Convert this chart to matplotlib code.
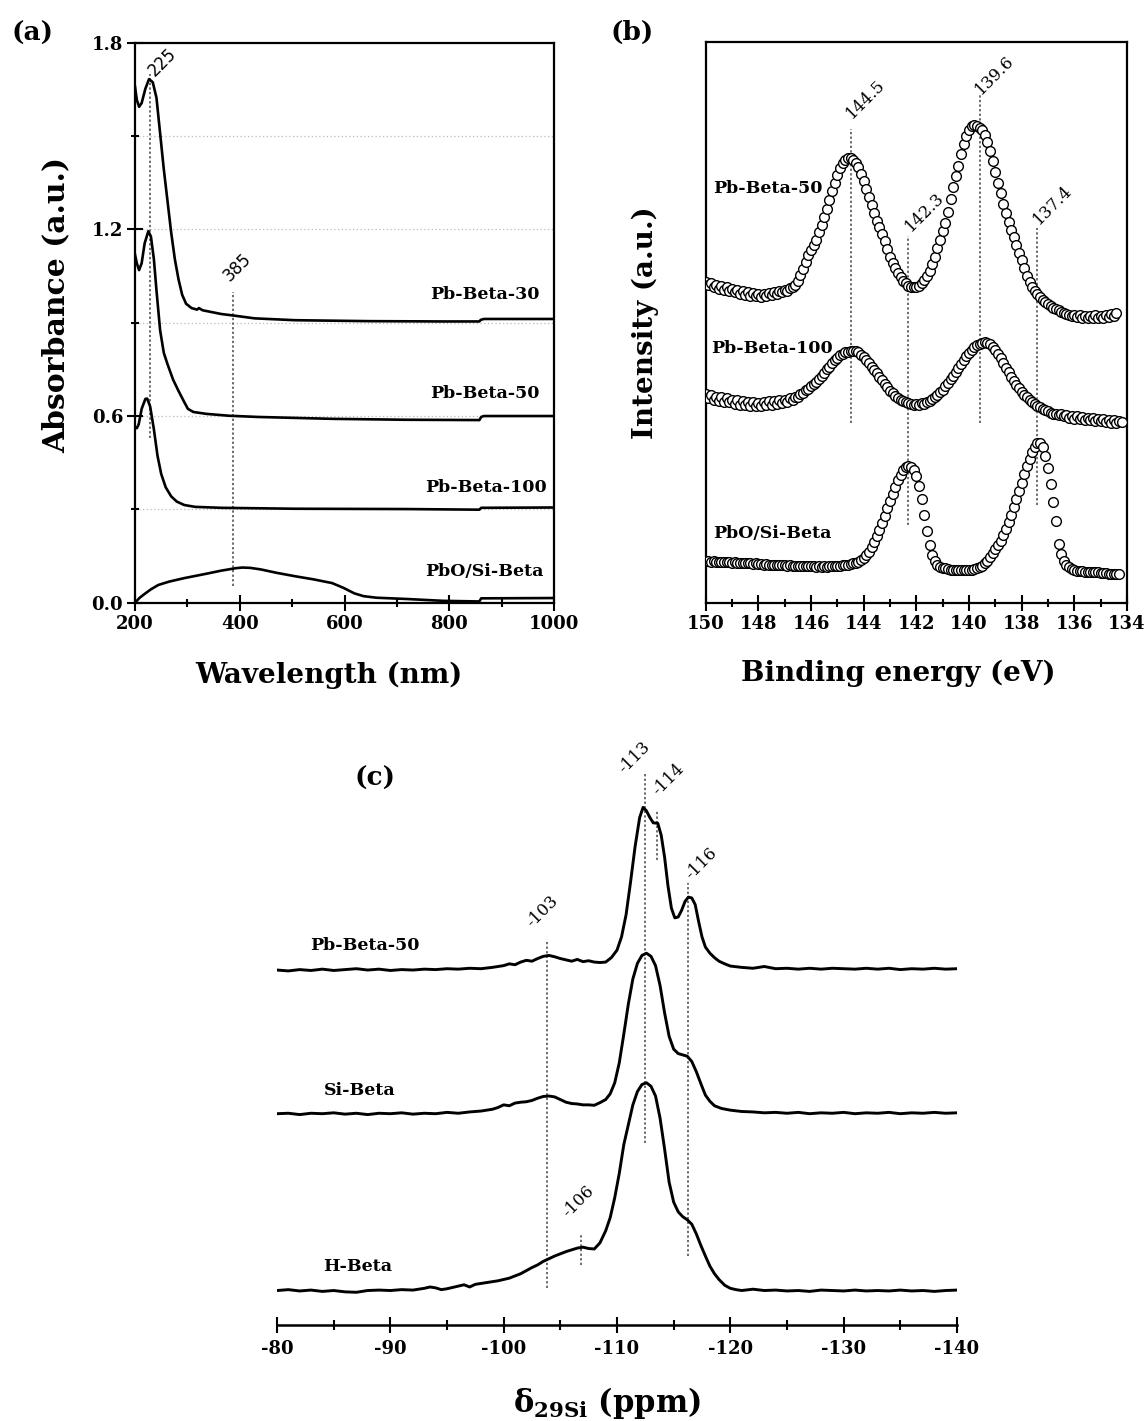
import numpy as np
import matplotlib.pyplot as plt
from matplotlib.ticker import MultipleLocator, FormatStrFormatter

plt.rcParams['font.family'] = 'DejaVu Serif'
plt.rcParams['font.weight'] = 'bold'
plt.rcParams['mathtext.fontset'] = 'dejavuserif'

# ---------------- (a) UV-vis ----------------
wl_30 = [200, 203.5, 207.8, 212.7, 219.8, 226.8, 233.9, 241, 248, 255, 262, 269, 276,
         283, 290, 297.5, 308, 318.6, 322, 329, 364.5, 392.8, 428, 505.8, 647, 788,
         857.5, 860, 866, 1000]
abs_30 = [1.659, 1.616, 1.594, 1.606, 1.652, 1.683, 1.673, 1.623, 1.508, 1.393, 1.292,
          1.191, 1.105, 1.040, 0.990, 0.961, 0.947, 0.942, 0.947, 0.940, 0.928, 0.922,
          0.914, 0.908, 0.905, 0.904, 0.904, 0.909, 0.912, 0.912]

wl_50 = [200, 203.5, 207.8, 212.7, 218.4, 225.4, 230.4, 236, 241, 248, 255, 262, 272.7,
         283, 294, 301, 311.6, 336, 378.7, 435, 576, 717.7, 857.5, 861, 866, 1000]
abs_50 = [1.119, 1.091, 1.069, 1.091, 1.155, 1.194, 1.177, 1.105, 1.004, 0.875, 0.803,
          0.767, 0.717, 0.681, 0.645, 0.623, 0.613, 0.607, 0.601, 0.597, 0.591, 0.588,
          0.587, 0.597, 0.600, 0.600]

wl_100 = [200, 203.5, 207, 212.7, 219.8, 223.3, 229, 236, 243, 250, 258.6, 269, 279.8,
          294, 315, 364.5, 505.8, 717.7, 857.5, 861, 1000]
abs_100 = [0.565, 0.561, 0.573, 0.623, 0.655, 0.656, 0.630, 0.558, 0.472, 0.414, 0.371,
           0.342, 0.325, 0.314, 0.308, 0.305, 0.302, 0.301, 0.299, 0.305, 0.306]

wl_pbo = [200, 209, 219.8, 230.4, 244.5, 265.7, 294, 315, 336, 364.5, 392.8, 405, 420,
          440, 470.5, 505.8, 541, 576.4, 597.6, 618.8, 636.4, 661, 717.7, 788, 857.5,
          861, 1000]
abs_pbo = [0.000, 0.016, 0.030, 0.043, 0.057, 0.068, 0.079, 0.086, 0.093, 0.103, 0.111,
           0.113, 0.112, 0.107, 0.096, 0.085, 0.075, 0.063, 0.048, 0.030, 0.021, 0.016,
           0.012, 0.006, 0.004, 0.014, 0.015]

uv_labels = ['Pb-Beta-30', 'Pb-Beta-50', 'Pb-Beta-100', 'PbO/Si-Beta']

# ---------------- (b) XPS Pb 4f (0.1 eV steps from 150 eV) ----------------
xps_50 = [572, 566, 570, 563, 567, 560, 564, 558, 562, 556,
          560, 553, 557, 551, 555, 549, 553, 547, 552, 546,
          550, 545, 551, 547, 552, 548, 554, 550, 556, 553,
          558, 556, 561, 563, 567, 574, 584, 595, 607, 619,
          629, 638, 647, 660, 673, 687, 701, 717, 733, 749,
          762, 775, 784, 790, 793, 792, 789, 784, 776, 765,
          751, 737, 723, 709, 695, 681, 669, 657, 644, 630,
          617, 606, 596, 588, 580, 574, 569, 565, 563, 562,
          563, 565, 569, 575, 582, 591, 603, 617, 632, 647,
          662, 677, 697, 719, 741, 760, 779, 799, 818, 832,
          843, 849, 851, 850, 847, 842, 834, 821, 805, 787,
          768, 749, 730, 711, 695, 679, 665, 651, 637, 624,
          610, 596, 583, 571, 563, 556, 550, 545, 540, 536,
          532, 529, 526, 523, 521, 518, 516, 514, 513, 511,
          513, 509, 512, 508, 511, 507, 511, 508, 512, 507,
          511, 508, 512, 509, 514, 511, 516]

xps_100 = [372, 365, 370, 362, 367, 360, 366, 358, 364, 357,
           362, 355, 361, 353, 359, 352, 358, 351, 357, 350,
           356, 351, 358, 352, 359, 353, 360, 354, 361, 356,
           362, 358, 364, 361, 367, 366, 372, 373, 379, 381,
           386, 389, 393, 398, 404, 410, 416, 421, 427, 432,
           437, 441, 444, 446, 447, 448, 449, 448, 446, 442,
           438, 433, 427, 421, 415, 409, 403, 397, 390, 384,
           378, 373, 369, 365, 362, 360, 357, 356, 354, 353,
           355, 353, 356, 355, 358, 360, 363, 367, 371, 375,
           380, 386, 392, 398, 404, 411, 418, 425, 432, 439,
           445, 451, 456, 460, 462, 463, 464, 463, 461, 456,
           450, 443, 436, 428, 419, 411, 403, 395, 388, 382,
           376, 371, 366, 362, 358, 355, 351, 348, 346, 343,
           341, 339, 337, 336, 334, 336, 332, 334, 330, 333,
           328, 332, 327, 331, 326, 330, 325, 329, 324, 328,
           323, 327, 322, 326, 321, 325, 320, 324, 322]

xps_pbo = [74, 74, 73, 74, 73, 73, 72, 73, 72, 72,
           71, 72, 71, 71, 70, 71, 70, 70, 69, 70,
           69, 69, 68, 69, 68, 68, 67, 68, 67, 67,
           67, 66, 67, 66, 66, 66, 65, 66, 65, 65,
           65, 65, 64, 65, 64, 65, 64, 65, 65, 65,
           66, 66, 67, 67, 68, 69, 70, 71, 73, 76,
           80, 85, 91, 99, 108, 119, 130, 142, 155, 168,
           181, 194, 206, 218, 228, 236, 241, 243, 242, 236,
           225, 208, 185, 157, 128, 103, 85, 74, 68, 64,
           62, 61, 60, 59, 59, 58, 58, 58, 58, 58,
           58, 59, 60, 61, 63, 66, 70, 75, 81, 89,
           96, 103, 110, 120, 131, 143, 156, 170, 184, 199,
           214, 229, 243, 256, 268, 278, 284, 285, 278, 262,
           240, 212, 180, 146, 105, 86, 75, 68, 63, 60,
           58, 57, 56, 56, 55, 55, 55, 54, 54, 54,
           53, 53, 53, 52, 52, 52, 51, 51]

xps_labels = ['Pb-Beta-50', 'Pb-Beta-100', 'PbO/Si-Beta']

# ---------------- (c) 29Si MAS NMR ----------------
ppm_pb = [-80, -81, -82, -83, -84, -85, -86, -87, -88, -89, -90, -91, -92, -93, -94, -95,
          -96, -97, -98, -99, -100, -100.5, -101, -101.5, -102, -102.5, -103, -103.5, -104,
          -104.5, -105, -105.5, -106, -106.5, -107, -107.5, -108, -108.5, -109, -109.5,
          -110, -110.4, -110.8, -111.2, -111.6, -112, -112.3, -112.6, -112.9, -113.2,
          -113.6, -113.9, -114.2, -114.5, -114.8, -115.1, -115.4, -115.7, -116, -116.3,
          -116.6, -116.9, -117.2, -117.5, -117.8, -118.2, -118.6, -119, -119.5, -120,
          -121, -122, -123, -124, -125, -126, -127, -128, -129, -130, -131, -132, -133,
          -134, -135, -136, -137, -138, -139, -140]
int_pb = [0, -2, 1, -1, 2, -1, 1, 3, 0, 2, -1, 1, 0, 2, 1, 3,
          2, 4, 3, 6, 10, 14, 12, 18, 22, 20, 26, 31, 33,
          30, 26, 23, 20, 24, 19, 21, 18, 17, 18, 28,
          45, 75, 125, 200, 280, 345, 368, 360, 345, 333,
          332, 305, 255, 190, 140, 118, 120, 135, 155, 165,
          163, 148, 110, 75, 52, 38, 28, 20, 14, 9,
          6, 4, 8, 3, 4, 2, 4, 2, 4, 3, 2, 4, 2,
          4, 1, 3, 2, 4, 2, 3]

ppm_si = [-80, -81, -82, -83, -84, -85, -86, -87, -88, -89, -90, -91, -92, -93, -94, -95,
          -96, -97, -98, -99, -99.5, -100, -100.5, -101, -101.5, -102, -102.5, -103,
          -103.5, -104, -104.5, -105, -105.5, -106, -106.5, -107, -107.5, -108, -108.5,
          -109, -109.4, -109.8, -110.2, -110.6, -111, -111.4, -111.8, -112.2, -112.6,
          -113, -113.4, -113.8, -114.2, -114.6, -115, -115.4, -115.8, -116.2, -116.6,
          -117, -117.4, -117.8, -118.2, -118.6, -119.2, -120, -121, -122, -123, -124,
          -125, -126, -127, -128, -129, -130, -131, -132, -133, -134, -135, -136, -137,
          -138, -139, -140]
int_si = [0, 1, -2, 1, 0, 2, -1, 1, -2, 1, 0, 2, -1, 1, 0, 3,
          1, 4, 6, 10, 14, 20, 18, 24, 26, 27, 30, 35,
          39, 40, 38, 32, 26, 23, 22, 20, 20, 19, 25,
          32, 45, 70, 115, 180, 248, 305, 340, 358, 363,
          356, 335, 290, 228, 175, 146, 136, 133, 130, 118,
          95, 68, 42, 28, 18, 12, 8, 5, 4, 2, 3,
          1, 3, 0, 2, 1, 3, 0, 2, 1, 3, 0, 2, 1,
          3, 1, 2]

ppm_h = [-80, -81, -82, -83, -84, -85, -86, -87, -88, -89, -90, -91, -92, -93, -93.5,
         -94, -94.5, -95, -96, -96.5, -97, -97.5, -98, -98.5, -99, -99.5, -100, -100.5,
         -101, -101.5, -102, -102.5, -103, -103.5, -104, -104.5, -105, -105.5, -106,
         -106.5, -107, -107.5, -108, -108.5, -109, -109.4, -109.8, -110.2, -110.6, -111,
         -111.4, -111.8, -112.2, -112.6, -113, -113.4, -113.8, -114.2, -114.6, -115,
         -115.4, -115.8, -116.2, -116.6, -117, -117.4, -117.8, -118.2, -118.6, -119,
         -119.5, -120, -120.5, -121, -122, -123, -124, -125, -126, -127, -128, -129,
         -130, -131, -132, -133, -134, -135, -136, -137, -138, -139, -140]
int_h = [0, 2, -1, 1, -2, 0, -3, -4, 0, 1, 0, 2, 1, 5, 8,
         6, 2, 4, 10, 13, 8, 14, 16, 18, 20, 22, 25, 28,
         33, 38, 45, 52, 58, 66, 72, 78, 83, 88, 92,
         96, 98, 95, 94, 108, 135, 165, 210, 265, 330, 375,
         420, 450, 466, 470, 462, 440, 390, 320, 245, 200,
         178, 167, 160, 150, 128, 102, 78, 55, 38, 25,
         12, 5, 2, 0, 3, 0, 1, -1, 0, -2, 1, 0,
         -1, 1, -1, 0, -1, 1, -1, 0, -2, 0, 1]

nmr_labels = ['Pb-Beta-50', 'Si-Beta', 'H-Beta']

# ---------------- figure ----------------
W, H = 1148, 1421
fig = plt.figure(figsize=(W / 100, H / 100), dpi=100)


def box(x0, y0, x1, y1):
    return [x0 / W, 1 - y1 / H, (x1 - x0) / W, (y1 - y0) / H]


dot = (0, (1.5, 1.5))
gcol = '#444444'

# (a)
ax = fig.add_axes(box(135, 42.7, 554, 602.7))
for wl, ab in [(wl_30, abs_30), (wl_50, abs_50), (wl_100, abs_100), (wl_pbo, abs_pbo)]:
    ax.plot(wl, ab, color='black', lw=1.9, zorder=3)
ax.set_xlim(200, 1000)
ax.set_ylim(0, 1.8)
ax.xaxis.set_major_locator(MultipleLocator(200))
ax.xaxis.set_minor_locator(MultipleLocator(100))
ax.yaxis.set_major_locator(MultipleLocator(0.6))
ax.yaxis.set_minor_locator(MultipleLocator(0.3))
ax.yaxis.set_major_formatter(FormatStrFormatter('%.1f'))
ax.grid(axis='y', which='both', ls=(0, (1, 2)), color='#bbbbbb', lw=0.9)
ax.tick_params(which='major', direction='inout', length=11, width=1.5, labelsize=13, pad=3)
ax.tick_params(which='minor', direction='inout', length=6, width=1.5)
for s in ax.spines.values():
    s.set_linewidth(1.6)
ax.vlines(228, 0.53, 1.70, color=gcol, lw=1.1, linestyles=[dot], zorder=2)
ax.vlines(388, 0.055, 1.0, color=gcol, lw=1.1, linestyles=[dot], zorder=2)
ax.text(238, 1.69, '225', rotation=45, rotation_mode='anchor', ha='left', va='baseline',
        fontsize=12, family='DejaVu Sans', fontweight='normal')
ax.text(381, 1.03, '385', rotation=45, rotation_mode='anchor', ha='left', va='baseline',
        fontsize=12, family='DejaVu Sans', fontweight='normal')
for lab, xr, yc in zip(uv_labels, [973, 973, 986, 979], [0.99, 0.673, 0.37, 0.10]):
    ax.text(xr, yc, lab, ha='right', va='center', fontsize=12.5)
fig.text(329 / W, 1 - 675 / H, 'Wavelength (nm)', ha='center', va='center', fontsize=20)
fig.text(56 / W, 1 - 305 / H, 'Absorbance (a.u.)', ha='center', va='center',
         rotation=90, fontsize=21.5)
fig.text(33 / W, 1 - 33 / H, '(a)', ha='center', va='center', fontsize=19)

# (b)
ax = fig.add_axes(box(705.7, 41.7, 1127, 602.7))
for vals in [xps_50, xps_100, xps_pbo]:
    be = 150.0 - 0.1 * np.arange(len(vals))
    ax.plot(be, vals, ls='none', marker='o', ms=7, mfc='white', mec='black', mew=1.0,
            zorder=3)
ax.set_xlim(150, 134)
ax.set_ylim(0, 1000)
ax.set_yticks([])
ax.xaxis.set_major_locator(MultipleLocator(2))
ax.xaxis.set_minor_locator(MultipleLocator(1))
ax.tick_params(which='major', direction='inout', length=12, width=1.5, labelsize=13, pad=3)
ax.tick_params(which='minor', direction='inout', length=6, width=1.5)
for s in ax.spines.values():
    s.set_linewidth(1.6)
for xv, y0, y1 in [(144.5, 321, 844), (142.3, 139, 654), (139.6, 321, 907), (137.4, 175, 668)]:
    ax.vlines(xv, y0, y1, color=gcol, lw=1.1, linestyles=[dot], zorder=2)
for txt, xv, yv in [('144.5', 144.45, 862), ('142.3', 142.22, 660),
                    ('139.6', 139.55, 905), ('137.4', 137.35, 673)]:
    ax.text(xv, yv, txt, rotation=45, rotation_mode='anchor', ha='left', va='baseline',
            fontsize=12, fontweight='normal')
for lab, xl, yc in zip(xps_labels, [149.73, 149.8, 149.7], [739, 454, 123]):
    ax.text(xl, yc, lab, ha='left', va='center', fontsize=12.5)
fig.text(898 / W, 1 - 673 / H, 'Binding energy (eV)', ha='center', va='center', fontsize=20)
fig.text(645 / W, 1 - 323 / H, 'Intensity (a.u.)', ha='center', va='center',
         rotation=90, fontsize=20)
fig.text(632 / W, 1 - 32 / H, '(b)', ha='center', va='center', fontsize=19)

# (c)
ax = fig.add_axes(box(277, 730, 957, 1325))
for ppm, inten, off in [(ppm_pb, int_pb, 803), (ppm_si, int_si, 478), (ppm_h, int_h, 78)]:
    ax.plot(ppm, np.array(inten) + off, color='black', lw=2.1, zorder=3)
ax.set_xlim(-80, -140)
ax.set_ylim(0, 1346)
ax.set_yticks([])
for side in ['top', 'right', 'left']:
    ax.spines[side].set_visible(False)
ax.spines['bottom'].set_linewidth(1.8)
ax.xaxis.set_major_locator(MultipleLocator(10))
ax.xaxis.set_minor_locator(MultipleLocator(5))
ax.xaxis.set_major_formatter(FormatStrFormatter('%d'))
ax.tick_params(which='major', direction='inout', length=12, width=1.5, labelsize=13, pad=5)
ax.tick_params(which='minor', direction='inout', length=7, width=1.5)
for xv, y0, y1 in [(-103.85, 84, 871), (-112.46, 411, 1249), (-113.5, 1051, 1166),
                   (-116.27, 156, 1001), (-106.84, 136, 206)]:
    ax.vlines(xv, y0, y1, color=gcol, lw=1.1, linestyles=[dot], zorder=2)
for txt, xv, yv in [('-103', -102.5, 899), ('-113', -110.6, 1246), ('-114', -113.6, 1196),
                    ('-116', -116.56, 1006), ('-106', -105.7, 241)]:
    ax.text(xv, yv, txt, rotation=45, rotation_mode='anchor', ha='left', va='baseline',
            fontsize=12, fontweight='normal')
for lab, xl, yc in zip(nmr_labels, [-82.9, -84.1, -84.1], [858, 531, 133]):
    ax.text(xl, yc, lab, ha='left', va='center', fontsize=12.5)
fig.text(607 / W, 1 - 1403 / H, r'δ$_{\mathbf{29Si}}$ (ppm)', ha='center', va='center',
         fontsize=22)
fig.text(375 / W, 1 - 778 / H, '(c)', ha='center', va='center', fontsize=19)

fig.savefig('out.png', dpi=100)
